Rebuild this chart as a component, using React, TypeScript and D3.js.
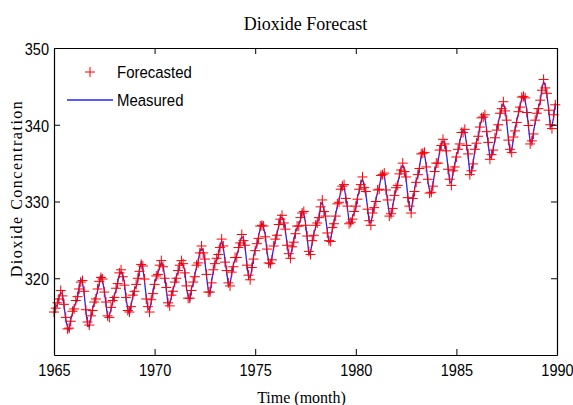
import { useEffect, useRef } from 'react';
import * as d3 from 'd3';

// monthly readings, Jan 1965 .. Dec 1989 (12 per row)
const measured = [
  315.42, 316.31, 316.50, 317.56, 318.13, 318.00, 316.39, 314.65, 313.68, 313.18, 314.66, 315.43,
  316.27, 316.81, 317.42, 318.87, 319.87, 319.43, 318.01, 315.74, 314.00, 313.68, 314.84, 316.03,
  316.73, 317.54, 318.38, 319.31, 320.42, 319.61, 318.42, 316.63, 314.83, 315.16, 315.94, 316.85,
  317.78, 318.40, 319.53, 320.42, 320.85, 320.45, 319.45, 317.25, 316.11, 315.27, 316.53, 317.53,
  318.58, 318.92, 319.70, 321.22, 322.08, 321.31, 319.58, 317.61, 316.05, 315.83, 316.91, 318.20,
  319.41, 320.07, 320.74, 321.40, 322.06, 321.73, 320.27, 318.54, 316.54, 316.71, 317.53, 318.55,
  319.27, 320.28, 320.73, 321.97, 322.00, 321.71, 321.05, 318.71, 317.66, 317.14, 318.70, 319.25,
  320.46, 321.43, 322.23, 323.54, 323.91, 323.59, 322.24, 320.20, 318.48, 317.94, 319.63, 320.87,
  322.17, 322.34, 322.88, 324.25, 324.83, 323.93, 322.38, 320.76, 319.10, 319.24, 320.56, 321.80,
  322.40, 322.99, 323.73, 324.86, 325.40, 325.20, 323.98, 321.95, 320.18, 320.09, 321.16, 322.74,
  323.83, 324.26, 325.47, 326.50, 327.21, 326.54, 325.72, 323.50, 322.22, 321.62, 322.69, 323.95,
  324.89, 325.82, 326.77, 327.97, 327.91, 327.50, 326.18, 324.53, 322.93, 322.90, 323.85, 324.96,
  326.01, 326.51, 327.01, 327.62, 328.76, 328.40, 327.20, 325.27, 323.20, 323.40, 324.63, 325.85,
  326.60, 327.47, 327.58, 329.56, 329.90, 328.92, 327.88, 326.16, 324.68, 325.04, 326.34, 327.39,
  328.37, 329.40, 330.14, 331.33, 332.31, 331.90, 330.70, 329.15, 327.35, 327.02, 327.99, 328.48,
  329.18, 330.55, 331.32, 332.48, 332.92, 332.08, 331.01, 329.23, 327.27, 327.21, 328.29, 329.41,
  330.23, 331.25, 331.87, 333.14, 333.80, 333.43, 331.73, 329.90, 328.40, 328.17, 329.32, 330.59,
  331.58, 332.39, 333.33, 334.41, 334.71, 334.17, 332.89, 330.77, 329.14, 328.78, 330.14, 331.52,
  332.75, 333.24, 334.53, 335.90, 336.57, 336.10, 334.76, 332.59, 331.42, 330.98, 332.24, 333.68,
  334.80, 335.22, 336.47, 337.59, 337.84, 337.72, 336.37, 334.51, 332.60, 332.38, 333.75, 334.78,
  336.05, 336.59, 337.79, 338.71, 339.30, 339.12, 337.56, 335.92, 333.75, 333.70, 335.12, 336.56,
  337.84, 338.19, 339.91, 340.60, 341.29, 341.00, 339.39, 337.43, 335.72, 335.84, 336.93, 338.04,
  339.06, 340.30, 341.21, 342.33, 342.74, 342.08, 340.32, 338.26, 336.52, 336.68, 338.19, 339.44,
  340.57, 341.44, 342.53, 343.39, 343.96, 343.18, 341.88, 339.65, 337.81, 337.69, 339.09, 340.32,
  341.20, 342.35, 342.93, 344.77, 345.58, 345.14, 343.81, 342.21, 339.69, 339.82, 340.98, 342.82,
];

const forecasted = [
  315.6, 316.1, 316.8, 317.3, 318.4, 317.7, 316.6, 314.9, 313.4, 313.5, 314.4, 315.7,
  316.0, 317.1, 317.6, 318.6, 319.5, 319.7, 318.3, 315.9, 314.3, 313.9, 315.1, 315.8,
  316.9, 317.3, 318.6, 319.6, 320.1, 319.9, 318.2, 316.9, 315.1, 314.9, 316.2, 317.1,
  317.5, 318.7, 319.3, 320.7, 321.1, 320.2, 319.1, 317.5, 315.8, 315.6, 316.3, 317.8,
  318.3, 319.2, 320.0, 320.9, 321.8, 321.6, 319.9, 317.3, 316.3, 315.6, 317.2, 318.0,
  319.2, 320.3, 320.5, 321.7, 322.3, 321.5, 320.0, 318.8, 316.8, 316.4, 317.8, 318.3,
  319.5, 320.0, 321.0, 321.7, 322.3, 321.9, 320.7, 319.0, 317.4, 317.4, 318.4, 319.5,
  320.2, 321.7, 322.0, 323.3, 324.2, 323.3, 322.5, 320.5, 318.2, 318.2, 319.4, 321.1,
  321.9, 322.6, 323.1, 324.0, 325.1, 324.2, 322.1, 321.0, 319.4, 319.0, 320.8, 321.5,
  322.7, 322.7, 324.0, 324.6, 325.7, 324.9, 324.3, 321.7, 320.4, 319.8, 321.4, 322.5,
  323.6, 324.5, 325.2, 326.8, 326.9, 326.8, 325.4, 323.8, 322.0, 321.9, 322.4, 324.2,
  325.1, 325.6, 327.0, 327.7, 328.2, 327.2, 326.4, 324.3, 323.2, 322.6, 324.1, 324.7,
  325.8, 326.8, 326.8, 327.9, 328.5, 328.7, 326.9, 325.5, 323.5, 323.1, 324.9, 325.6,
  326.9, 327.2, 327.9, 329.3, 330.2, 328.7, 328.1, 325.9, 324.9, 324.8, 326.6, 327.1,
  328.1, 329.7, 329.9, 331.6, 332.0, 332.2, 330.4, 329.4, 327.1, 327.3, 327.7, 328.7,
  329.4, 330.3, 331.6, 332.2, 333.2, 331.8, 331.3, 329.0, 327.5, 326.9, 328.5, 329.2,
  330.0, 331.5, 331.6, 333.4, 333.5, 333.7, 331.5, 330.2, 328.1, 328.4, 329.1, 330.8,
  331.8, 332.1, 333.6, 334.1, 335.0, 333.9, 333.2, 330.5, 329.4, 328.5, 330.4, 331.3,
  332.5, 333.5, 334.3, 336.2, 336.3, 336.4, 334.5, 332.9, 331.1, 331.2, 332.0, 333.9,
  335.0, 335.0, 336.7, 337.3, 338.1, 337.5, 336.6, 334.2, 332.9, 332.1, 334.0, 334.5,
  335.8, 336.8, 337.5, 339.0, 339.0, 339.4, 337.3, 336.2, 333.5, 334.0, 334.9, 336.8,
  337.6, 338.5, 339.7, 340.9, 341.0, 341.3, 339.1, 337.7, 335.5, 336.1, 336.7, 338.3,
  339.3, 340.0, 341.5, 342.1, 343.0, 341.8, 340.6, 338.0, 336.8, 336.4, 338.4, 339.2,
  340.3, 341.7, 342.3, 343.6, 343.7, 343.5, 341.6, 339.9, 337.5, 337.9, 338.8, 340.6,
  341.5, 342.1, 343.2, 344.5, 345.9, 344.8, 344.1, 341.9, 340.0, 339.5, 341.3, 342.6,
];

const startYear = 1965;
const xTicks = [1965, 1970, 1975, 1980, 1985, 1990];
const yTicks = [320, 330, 340, 350];

const W = 573, H = 405;
const left = 54, right = 557, top = 48, bottom = 355;
const narrow = 0.88; // labels in the picture are a condensed sans

const drawChart = (el: SVGSVGElement) => {
  const svg = d3.select(el);
  svg.selectAll('*').remove();

  const x = d3.scaleLinear().domain([1965, 1990]).range([left, right]);
  const y = d3.scaleLinear().domain([310, 350]).range([bottom, top]);
  const t = (i: number) => startYear + i / 12;

  const sans = '"Liberation Sans", Arial, sans-serif';
  const serif = '"Liberation Serif", "Times New Roman", serif';

  // measured line
  const line = d3.line<number>().x((d, i) => x(t(i))).y((d) => y(d));
  svg.append('path')
    .datum(measured)
    .attr('fill', 'none')
    .attr('stroke', '#2424ff')
    .attr('stroke-width', 1.3)
    .attr('d', line);

  // forecast markers (+)
  const plus = 'M-5,0H5M0,-5V5';
  svg.append('g')
    .selectAll('path')
    .data(forecasted)
    .join('path')
    .attr('transform', (d, i) => `translate(${x(t(i))},${y(d)})`)
    .attr('d', plus)
    .attr('stroke', '#ff0000')
    .attr('stroke-width', 1)
    .attr('fill', 'none');

  const styleAxis = (g: any) => {
    g.select('.domain').attr('stroke', '#000').attr('stroke-width', 1.2);
    g.selectAll('.tick line').attr('stroke', '#000');
    g.selectAll('text').attr('font-family', sans).attr('font-size', 16.5).attr('fill', '#000');
  };

  svg.append('g')
    .attr('transform', `translate(0,${bottom})`)
    .call(d3.axisBottom(x).tickValues(xTicks).tickFormat(d3.format('d')).tickSizeInner(-6).tickSizeOuter(0))
    .call(styleAxis)
    .call((g: any) => g.selectAll('text')
      .attr('y', 9)
      .attr('transform', `scale(${narrow},1)`));

  svg.append('g')
    .attr('transform', `translate(0,${top})`)
    .call(d3.axisTop(x).tickValues(xTicks).tickFormat(() => '').tickSizeInner(-6).tickSizeOuter(0))
    .call(styleAxis);

  svg.append('g')
    .attr('transform', `translate(${left},0)`)
    .call(d3.axisLeft(y).tickValues(yTicks).tickFormat(d3.format('d')).tickSizeInner(-6).tickSizeOuter(0))
    .call(styleAxis)
    .call((g: any) => g.selectAll('text')
      .attr('x', -5 / narrow)
      .attr('dy', '0.38em')
      .attr('transform', `scale(${narrow},1)`));

  svg.append('g')
    .attr('transform', `translate(${right},0)`)
    .call(d3.axisRight(y).tickValues(yTicks).tickFormat(() => '').tickSizeInner(-6).tickSizeOuter(0))
    .call(styleAxis);

  // titles
  svg.append('text')
    .attr('x', (left + right) / 2).attr('y', 30)
    .attr('text-anchor', 'middle')
    .attr('font-family', serif).attr('font-size', 18)
    .text('Dioxide Forecast');

  svg.append('text')
    .attr('x', (left + right) / 2 - 4).attr('y', 403)
    .attr('text-anchor', 'middle')
    .attr('font-family', serif).attr('font-size', 16)
    .text('Time (month)');

  svg.append('text')
    .attr('transform', `translate(22,${(top + bottom) / 2 - 13}) rotate(-90)`)
    .attr('text-anchor', 'middle')
    .attr('font-family', serif).attr('font-size', 16)
    .attr('letter-spacing', 1.5)
    .text('Dioxide Concentration');

  // legend
  const lg = svg.append('g').attr('font-family', sans).attr('font-size', 17);
  lg.append('path').attr('d', plus).attr('transform', 'translate(90,72)')
    .attr('stroke', '#ff0000').attr('fill', 'none');
  lg.append('text').attr('transform', `translate(117,78) scale(${narrow},1)`).text('Forecasted');
  lg.append('line').attr('x1', 67).attr('x2', 113).attr('y1', 100).attr('y2', 100)
    .attr('stroke', '#2424ff').attr('stroke-width', 1.3);
  lg.append('text').attr('transform', `translate(117,106) scale(${narrow},1)`).text('Measured');
};

const App = () => {
  const ref = useRef<SVGSVGElement>(null);
  useEffect(() => {
    if (ref.current) drawChart(ref.current);
  }, []);
  return (
    <svg ref={ref} width={W} height={H}
      style={{ position: 'absolute', left: 0, top: 0, background: '#fff' }} />
  );
};

export default App;
